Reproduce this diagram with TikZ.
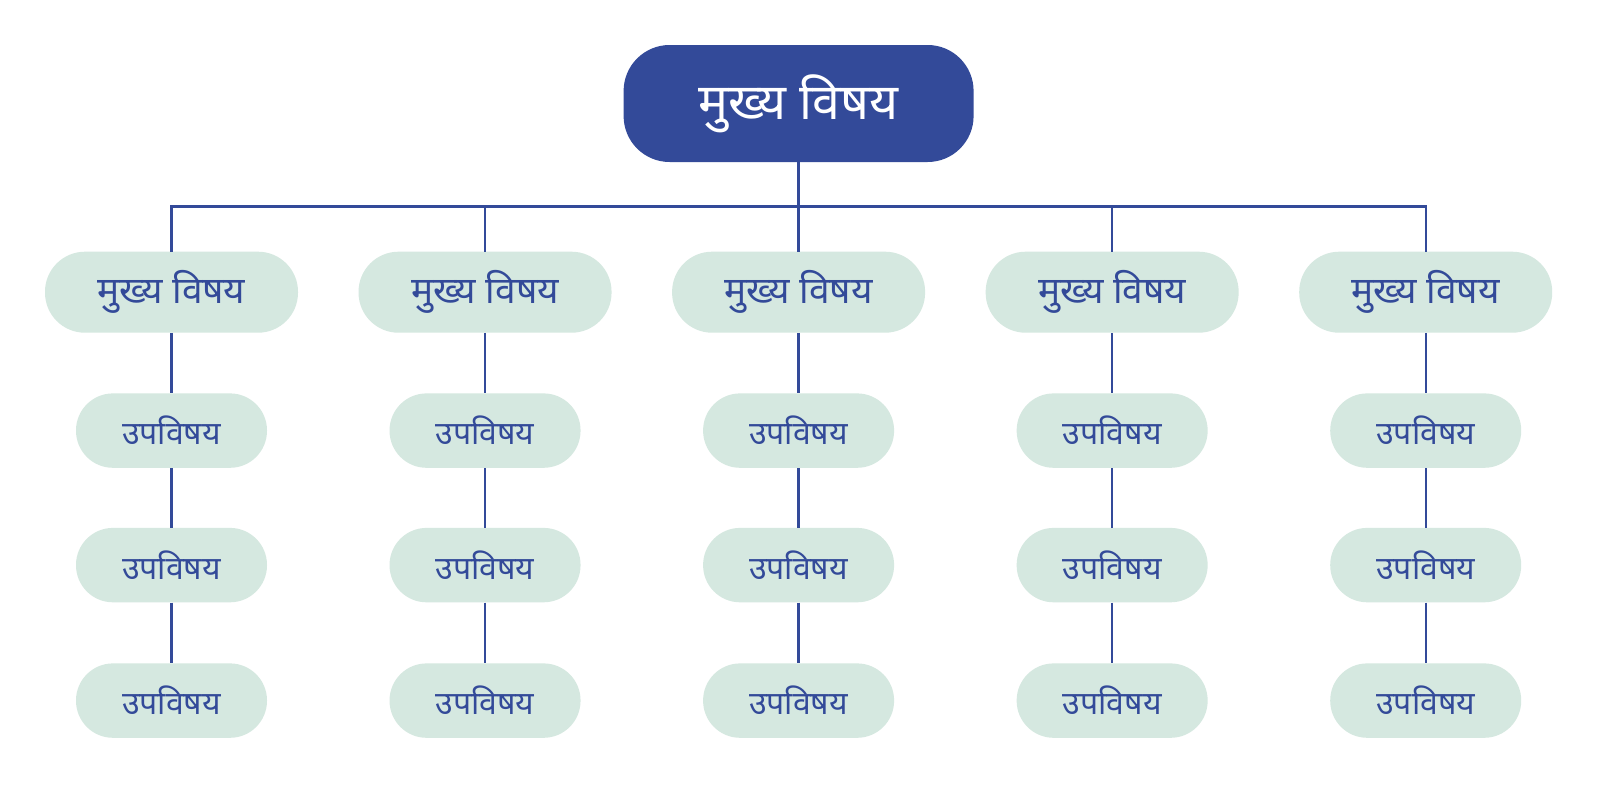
\documentclass[tikz,border=0pt]{standalone}
\usepackage{fontspec}
\newfontfamily\deva[Script=Devanagari]{Noto Sans}
\definecolor{navy}{RGB}{51,74,153}
\definecolor{mint}{RGB}{213,232,224}
\begin{document}
\begin{tikzpicture}[x=1pt,y=-1pt,
  rootbox/.style={fill=navy,text=white,rounded corners=46pt,minimum width=350pt,minimum height=117pt,inner sep=0pt,font=\deva\fontsize{50}{54}\selectfont},
  mainbox/.style={fill=mint,text=navy,rounded corners=40pt,minimum width=253pt,minimum height=81pt,inner sep=0pt,font=\deva\fontsize{37}{41}\selectfont},
  subbox/.style={fill=mint,text=navy,rounded corners=37pt,minimum width=191pt,minimum height=74.4pt,inner sep=0pt,font=\deva\fontsize{32}{36}\selectfont},
  link/.style={draw=navy,line width=2.3pt}]
\useasboundingbox[fill=white] (0,0) rectangle (1598,798);
\node[rootbox] (root) at (798.6,103.5) {मुख्य विषय};
\coordinate (bus) at (798.6,206.5);
\foreach \i/\x in {1/171.5,2/485.05,3/798.6,4/1112.15,5/1425.7}{
  \node[mainbox] (m\i) at (\x,292.2) {मुख्य विषय};
  \node[subbox] (a\i) at (\x,430.6) {उपविषय};
  \node[subbox] (b\i) at (\x,565.1) {उपविषय};
  \node[subbox] (c\i) at (\x,700.6) {उपविषय};
  \draw[link] (root.south) -- (root.south |- bus) -| (m\i.north);
  \draw[link] (m\i.south) -- (a\i.north);
  \draw[link] (a\i.south) -- (b\i.north);
  \draw[link] (b\i.south) -- (c\i.north);
}
\end{tikzpicture}
\end{document}
